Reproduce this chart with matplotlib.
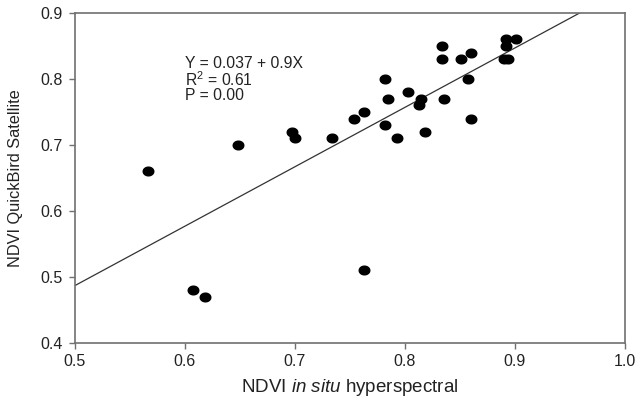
import numpy as np
import matplotlib
matplotlib.use('Agg')
import matplotlib.pyplot as plt
from matplotlib.path import Path

plt.rcParams['font.family'] = ['Liberation Sans', 'DejaVu Sans']
plt.rcParams['mathtext.fontset'] = 'custom'
plt.rcParams['mathtext.rm'] = 'Liberation Sans'
plt.rcParams['mathtext.it'] = 'Liberation Sans:italic'

# NDVI in situ hyperspectral vs NDVI QuickBird
ndvi_insitu = [0.566, 0.648, 0.607, 0.618, 0.697, 0.700, 0.734, 0.754, 0.763, 0.763,
               0.782, 0.782, 0.785, 0.793, 0.803, 0.813, 0.815, 0.818, 0.834, 0.834,
               0.836, 0.851, 0.857, 0.860, 0.860, 0.890, 0.894, 0.892, 0.892, 0.901]
ndvi_qb = [0.66, 0.70, 0.48, 0.47, 0.72, 0.71, 0.71, 0.74, 0.75, 0.51,
           0.80, 0.73, 0.77, 0.71, 0.78, 0.76, 0.77, 0.72, 0.85, 0.83,
           0.77, 0.83, 0.80, 0.84, 0.74, 0.83, 0.83, 0.85, 0.86, 0.86]

intercept = 0.037
slope = 0.9
xticks = [0.5, 0.6, 0.7, 0.8, 0.9, 1.0]
yticks = [0.4, 0.5, 0.6, 0.7, 0.8, 0.9]

fig = plt.figure(figsize=(6.35, 4.0), dpi=100)
ax = fig.add_axes([0.118, 0.1425, 0.866, 0.825])

# slightly wide elliptical dots like the original
t = np.linspace(0, 2 * np.pi, 40)
ellipse = Path(np.column_stack([np.cos(t), 0.82 * np.sin(t)]), closed=True)
ax.scatter(ndvi_insitu, ndvi_qb, marker=ellipse, s=58, color='black', zorder=3)

xl = np.array([0.5, 1.0])
ax.plot(xl, intercept + slope * xl, color='#333333', lw=0.9)

ax.set_xlim(0.5, 1.0)
ax.set_ylim(0.4, 0.9)
ax.set_xticks(xticks)
ax.set_yticks(yticks)
ax.set_xticklabels([f'{v:.1f}' for v in xticks])
ax.set_yticklabels([f'{v:.1f}' for v in yticks])

for s in ax.spines.values():
    s.set_color('#707070')
    s.set_linewidth(1.2)
ax.tick_params(direction='out', length=4, width=1, color='#707070',
               labelsize=11.5, labelcolor='#222222', pad=5)
ax.tick_params(axis='x', pad=4)

ax.set_xlabel('NDVI $\\mathit{in\\ situ}$ hyperspectral', fontsize=13.5, color='#222222', labelpad=6)
ax.set_ylabel('NDVI QuickBird Satellite', fontsize=11.8, color='#222222', labelpad=12)

ax.text(0.600, 0.835, 'Y = 0.037 + 0.9X\nR$^2$ = 0.61\nP = 0.00', fontsize=11.3,
        color='#222222', va='top', ha='left', linespacing=0.95)

fig.savefig('out.png', dpi=100)
